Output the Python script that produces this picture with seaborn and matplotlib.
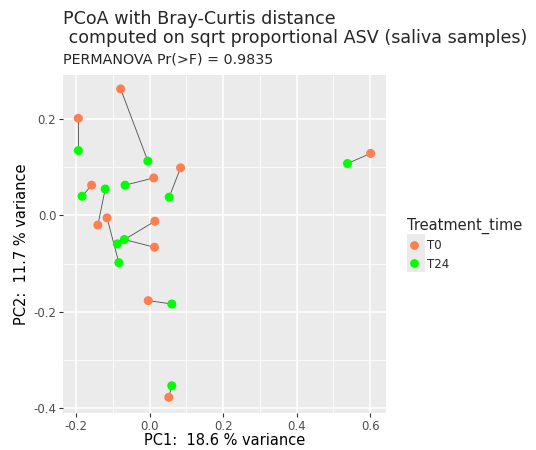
import matplotlib
matplotlib.use("Agg")
import matplotlib.pyplot as plt
import seaborn as sns
import pandas as pd
from matplotlib.patches import Rectangle
from matplotlib.lines import Line2D

# ---- data ----
pc1_T0 = [-0.194, -0.079, 0.084, 0.011, -0.158, -0.141, -0.116, 0.014, 0.013, -0.004, 0.052, 0.601]
pc2_T0 = [0.202, 0.263, 0.099, 0.078, 0.063, -0.020, -0.005, -0.012, -0.066, -0.177, -0.378, 0.129]
pc1_T24 = [-0.194, -0.005, 0.053, -0.067, -0.184, -0.121, -0.084, -0.088, -0.069, 0.060, 0.060, 0.538]
pc2_T24 = [0.135, 0.113, 0.038, 0.063, 0.040, 0.055, -0.098, -0.059, -0.050, -0.184, -0.354, 0.108]
groups = ["T0", "T24"]
colors = {"T0": "#FF7F50", "T24": "#00FF00"}
title = "PCoA with Bray-Curtis distance\n computed on sqrt proportional ASV (saliva samples)"
subtitle = "PERMANOVA Pr(>F) = 0.9835"
xlabel = "PC1:  18.6 % variance"
ylabel = "PC2:  11.7 % variance"
xticks = [-0.2, 0.0, 0.2, 0.4, 0.6]
yticks = [-0.4, -0.2, 0.0, 0.2]

n = len(pc1_T0)
df = pd.DataFrame({
    "PC1": pc1_T0 + pc1_T24,
    "PC2": pc2_T0 + pc2_T24,
    "Treatment_time": ["T0"] * n + ["T24"] * n,
    "pair": list(range(n)) * 2,
})

sns.set_theme(style="darkgrid")
plt.rcParams["font.family"] = ["DejaVu Sans"]

fig = plt.figure(figsize=(5.36, 4.5), dpi=100)
ax = fig.add_axes([63.3 / 536, 1 - 412.7 / 450, (385.7 - 63.3) / 536, (412.7 - 75) / 450])
ax.set_facecolor("#EBEBEB")

sns.lineplot(data=df, x="PC1", y="PC2", units="pair", estimator=None, sort=False,
             color="#4D4D4D", lw=0.6, legend=False, ax=ax, zorder=2)
sns.scatterplot(data=df, x="PC1", y="PC2", hue="Treatment_time", palette=colors,
                hue_order=groups, s=42, edgecolor="none", linewidth=0, legend=False,
                ax=ax, zorder=3)

ax.set_xlim(-0.235, 0.642)
ax.set_ylim(-0.410, 0.292)
ax.set_xticks(xticks)
ax.set_xticklabels([f"{t:.1f}" for t in xticks])
ax.set_yticks(yticks)
ax.set_yticklabels([f"{t:.1f}" for t in yticks])
ax.set_xticks([-0.1, 0.1, 0.3, 0.5], minor=True)
ax.set_yticks([-0.3, -0.1, 0.1], minor=True)
ax.grid(which="major", color="white", lw=1.1)
ax.grid(which="minor", color="white", lw=0.55)
ax.set_axisbelow(True)
for s in ax.spines.values():
    s.set_visible(False)
ax.tick_params(axis="both", which="major", length=3, width=0.8, color="#333333",
               labelsize=8.5, labelcolor="#4D4D4D", pad=2, bottom=True, left=True)
ax.tick_params(axis="both", which="minor", length=0)
ax.set_xlabel(xlabel, fontsize=10.5, color="black", labelpad=0)
ax.set_ylabel(ylabel, fontsize=10.5, color="black", labelpad=3)

fig.text(63.3 / 536, 1 - 10 / 450, title, fontsize=12.6, va="top", ha="left", linespacing=1.05)
fig.text(63.3 / 536, 1 - 59 / 450, subtitle, fontsize=10.3, va="center", ha="left")

# legend
handles = [Line2D([0], [0], marker="o", ls="none", markersize=6.3, markerfacecolor=colors[g],
                  markeredgewidth=0) for g in groups]
fig.patches.append(Rectangle((407 / 536, 1 - 272 / 450), 18 / 536, 38 / 450,
                             transform=fig.transFigure, facecolor="#EBEBEB", edgecolor="none",
                             zorder=0))
leg = fig.legend(handles, groups, title="Treatment_time", loc="upper left",
                 bbox_to_anchor=(402 / 536, 1 - 213 / 450), frameon=False, fontsize=8.5,
                 title_fontsize=10.5, handlelength=1.2, handletextpad=0.5, labelspacing=0.45,
                 borderaxespad=0)
leg._legend_box.align = "left"

fig.savefig("out.png", dpi=100)
